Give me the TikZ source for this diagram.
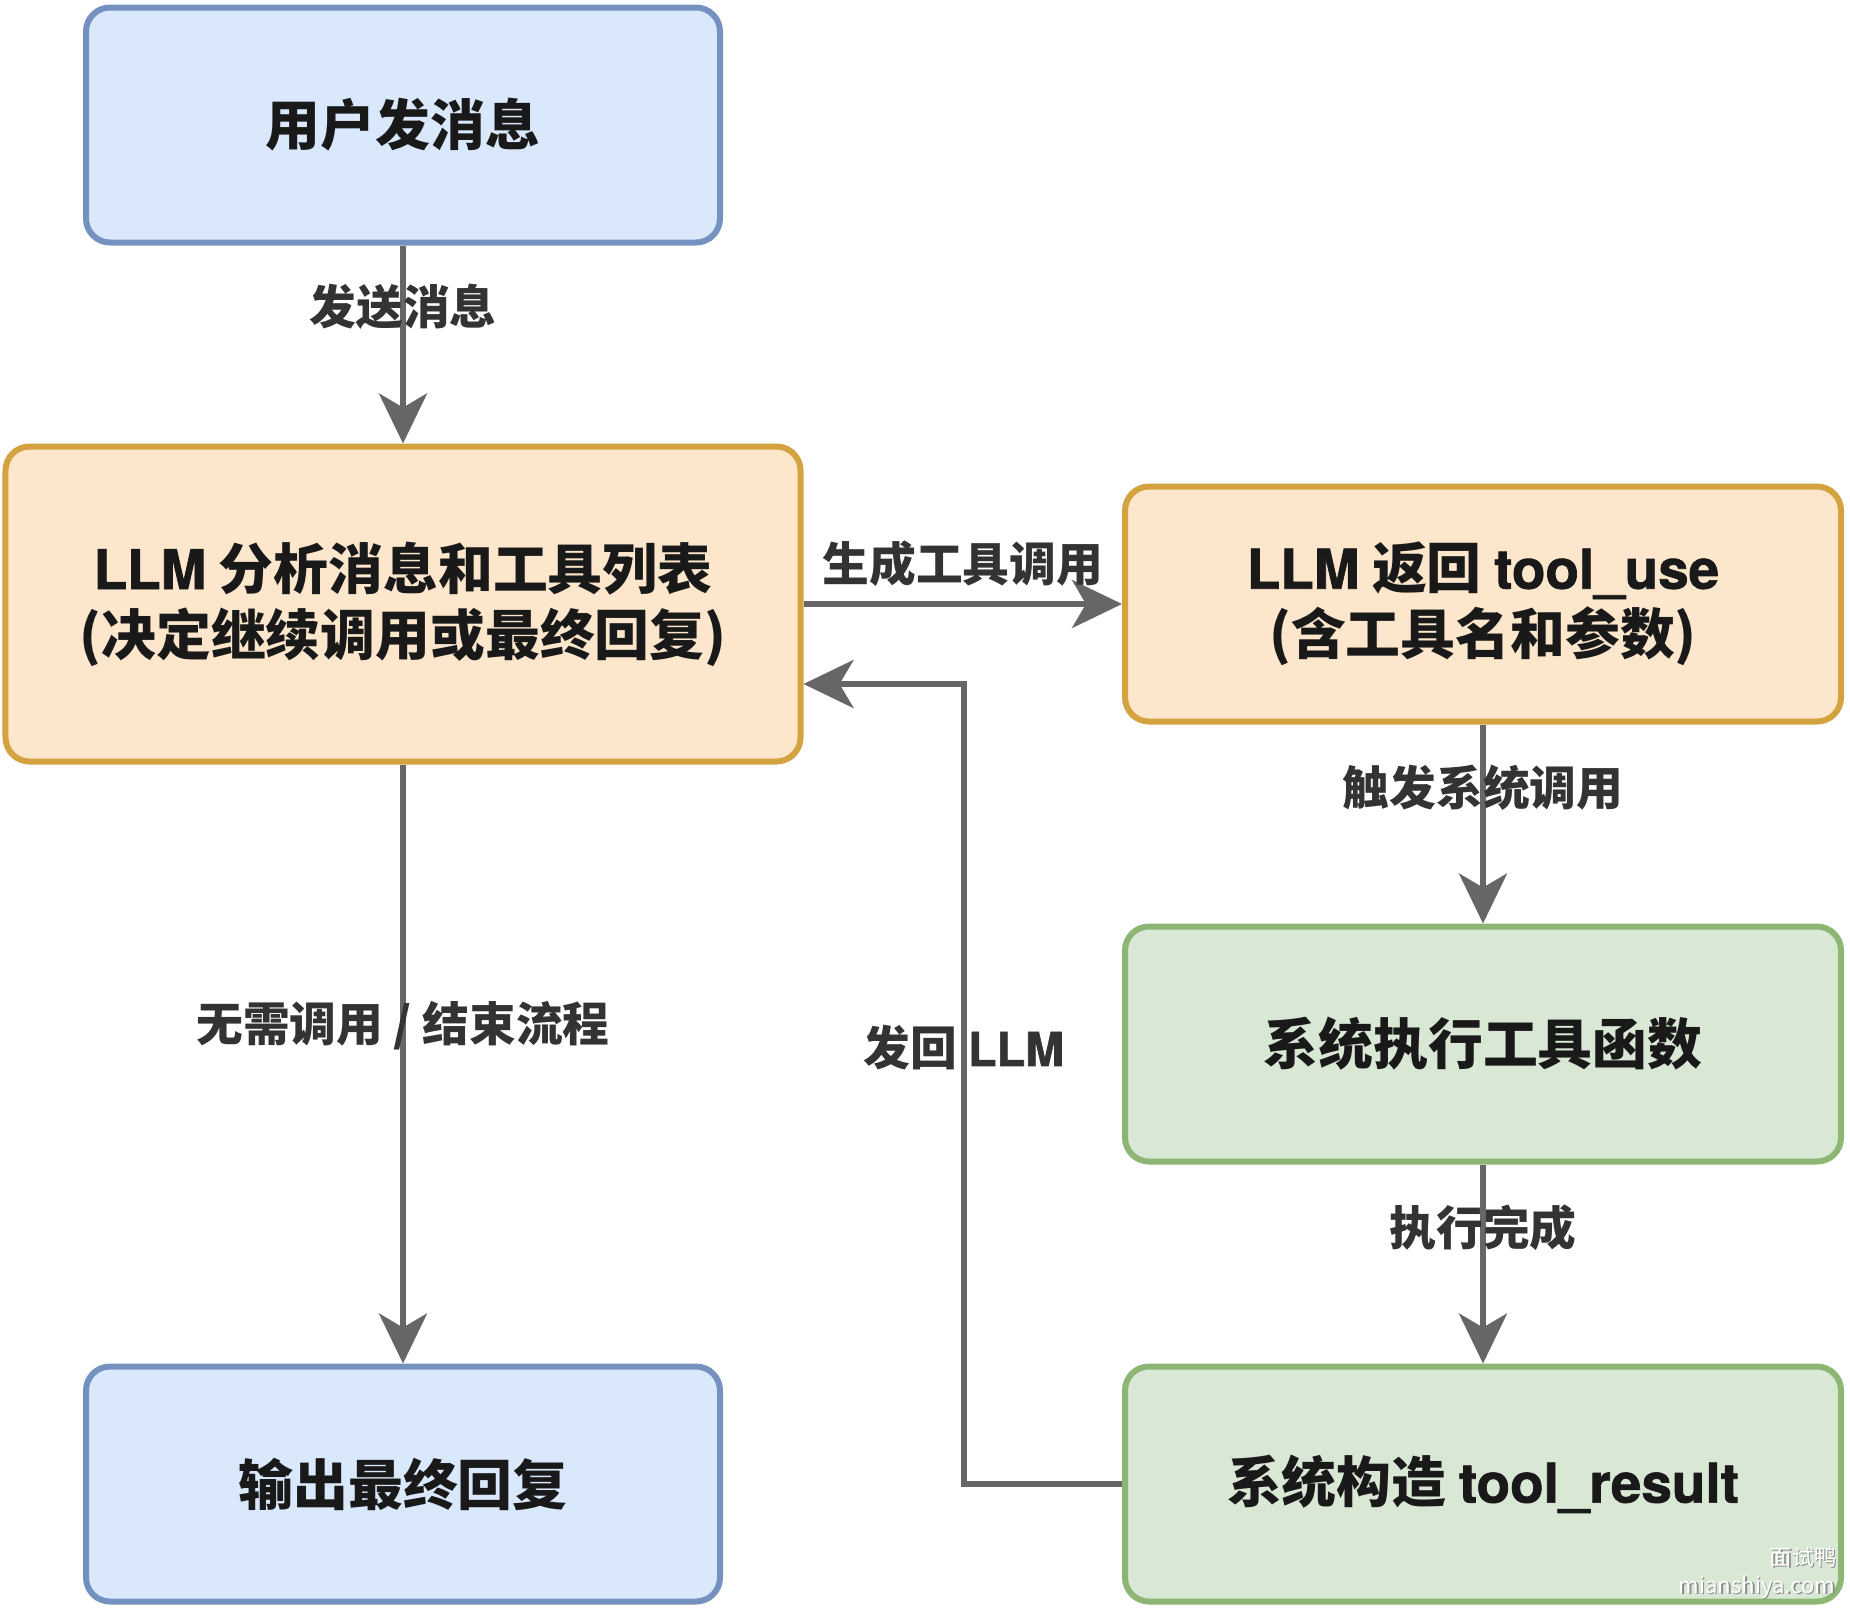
\documentclass[tikz,border=0pt]{standalone}
\usepackage{fontspec}
\setmainfont{Noto Sans CJK SC}
\newfontfamily\latin{texgyreheros-bold.otf}[FakeBold=1.3]
\usetikzlibrary{arrows.meta}

\definecolor{bluefill}{HTML}{DAE8FC}
\definecolor{bluedraw}{HTML}{7491BF}
\definecolor{orangefill}{HTML}{FCE6CC}
\definecolor{orangedraw}{HTML}{D4A23E}
\definecolor{greenfill}{HTML}{D9E8D5}
\definecolor{greendraw}{HTML}{8DB574}
\definecolor{arrowgray}{HTML}{666666}
\definecolor{labelgray}{HTML}{333333}

\newcommand{\en}[1]{{\latin #1}}

\begin{document}
\begin{tikzpicture}[>={Stealth[length=5mm, width=4.8mm, inset=1.4mm]},
    box/.style={draw, rounded corners=2.4mm, line width=0.6mm, text=black!90, align=center,
        font=\fontsize{15.6}{18.8}\selectfont\bfseries, inner sep=0pt,
        minimum width=7.16cm, minimum height=2.35cm},
    bluebox/.style={box, fill=bluefill, draw=bluedraw, minimum width=6.34cm},
    orangebox/.style={box, fill=orangefill, draw=orangedraw},
    greenbox/.style={box, fill=greenfill, draw=greendraw},
    flow/.style={->, line width=0.55mm, draw=arrowgray},
    lbl/.style={font=\fontsize{13.3}{16}\selectfont\bfseries, text=labelgray, inner sep=0pt},
    wmark/.style={font=\fontsize{6.3}{7}\selectfont, inner sep=0pt, anchor=east}]

\useasboundingbox (0,0) rectangle (18.5,-16.1);

% boxes
\node[bluebox] (user) at (4.03,-1.25) {用户发消息};
\node[orangebox, minimum width=7.95cm, minimum height=3.15cm] (llm) at (4.03,-6.04)
    {\en{LLM} 分析消息和工具列表\\(决定继续调用或最终回复)};
\node[orangebox] (use) at (14.83,-6.04) {\en{LLM} 返回 \en{tool\_use}\\(含工具名和参数)};
\node[greenbox] (exec) at (14.83,-10.44) {系统执行工具函数};
\node[greenbox] (result) at (14.83,-14.84) {系统构造 \en{tool\_result}};
\node[bluebox] (final) at (4.03,-14.84) {输出最终回复};

% connectors
\draw[flow] (user) -- node[lbl, pos=0.31] (send) {发送消息} (llm);
\draw[flow] (llm) -- node[lbl, above=1.45mm] (gen) {生成工具调用} (use);
\draw[flow] (use) -- node[lbl, pos=0.315] (trig) {触发系统调用} (exec);
\draw[flow] (exec) -- node[lbl, pos=0.315] (done) {执行完成} (result);
\draw[flow] (llm) -- node[lbl, pos=0.436] (stop) {无需调用 / 结束流程} (final);
\coordinate (back) at (9.64,-6.84);
\draw[flow] (result.west) -| node[lbl, pos=0.7725] (ret) {发回 \en{LLM}} (back)
    -- (llm.east |- back);

% watermark
\node[wmark, text=black!45] (wm1s) at (18.385,-15.585) {面试鸭};
\node[wmark, text=white] (wm1) at (18.37,-15.57) {面试鸭};
\node[wmark, text=black!45] (wm2s) at (18.375,-15.885) {mianshiya.com};
\node[wmark, text=white] (wm2) at (18.36,-15.87) {mianshiya.com};
\end{tikzpicture}
\end{document}
